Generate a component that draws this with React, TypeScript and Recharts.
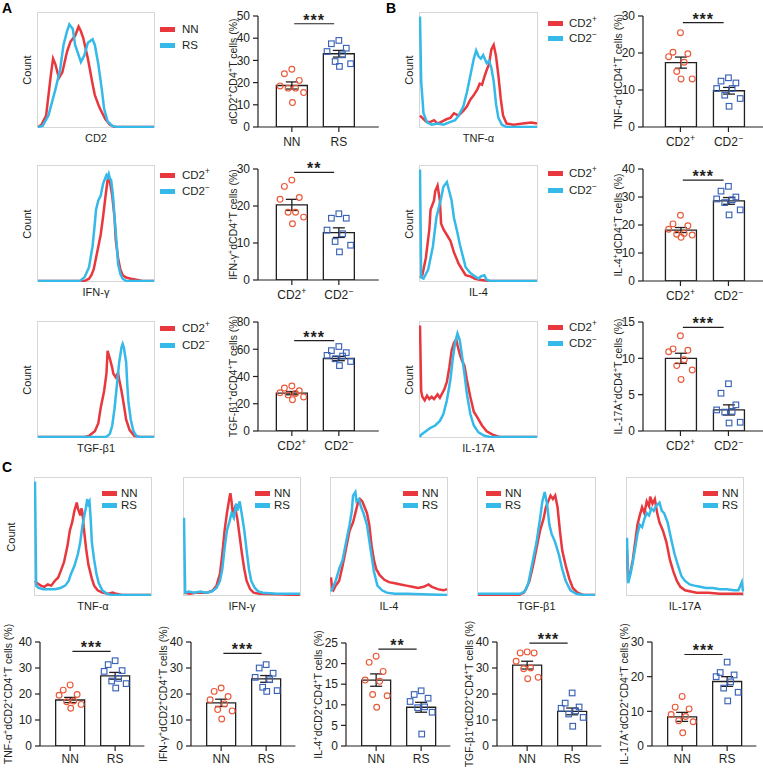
import React from "react";
import {
  Bar,
  ComposedChart,
  ErrorBar,
  Line,
  LineChart,
  ReferenceLine,
  Scatter,
  XAxis,
  YAxis,
} from "recharts";

const RED = "#e8383d";
const BLUE = "#35b9e9";
const DOT_RED = "#ea5a3a";
const DOT_BLUE = "#3a63b8";
const INK = "#231f20";
const FONT = '"Liberation Sans", Arial, sans-serif';

type Pt = [number, number];

// histogram traces: [channel bin 0-100, count % of max]
const cd2NN: Pt[] = [[0,0],[3,2],[7,10],[11,45],[13,60],[15,55],[18,43],[21,48],[25,66],[28,75],[32,80],[35,88],[37,84],[39,78],[43,60],[47,38],[49,28],[53,17],[58,7],[62,2],[66,0],[100,0]];
const cd2RS: Pt[] = [[0,0],[4,1],[9,10],[15,33],[19,50],[22,72],[25,84],[27,90],[30,86],[32,72],[35,63],[37,57],[40,63],[43,74],[47,77],[49,72],[52,55],[55,33],[57,16],[60,5],[64,1],[68,0],[100,0]];

const tnfPos: Pt[] = [[0,10],[2,8],[5,5],[8,4],[12,6],[15,3],[19,5],[23,7],[26,8],[29,12],[33,10],[37,14],[40,18],[43,24],[46,28],[49,33],[51,38],[53,37],[55,44],[57,50],[59,55],[61,68],[63,72],[65,62],[67,45],[69,25],[71,10],[74,3],[80,2],[88,3],[95,4],[100,3]];
const tnfNeg: Pt[] = [[0,97],[1,40],[3,12],[6,4],[10,2],[15,3],[20,2],[25,4],[30,6],[33,10],[37,18],[40,30],[43,45],[46,60],[48,67],[50,62],[52,60],[54,63],[57,56],[59,58],[61,52],[63,40],[65,20],[67,8],[70,2],[74,0],[100,0]];

const ifnPos: Pt[] = [[0,0],[40,0],[44,2],[46,5],[48,10],[50,20],[52,30],[54,40],[56,55],[58,72],[59,80],[60,88],[61,89],[62,86],[64,74],[66,55],[67,36],[69,20],[71,10],[73,5],[76,3],[80,2],[85,1],[90,0],[100,0]];
const ifnNeg: Pt[] = [[0,0],[36,0],[40,3],[44,12],[47,30],[49,50],[50,62],[52,70],[54,74],[56,84],[57,87],[59,92],[60,90],[61,93],[62,89],[63,88],[64,80],[65,70],[66,55],[68,30],[69,15],[71,6],[73,2],[76,0],[100,0]];

const il4Pos: Pt[] = [[0,3],[2,5],[5,20],[8,45],[9,62],[12,70],[13,78],[15,83],[17,70],[18,50],[20,45],[23,40],[26,35],[29,25],[33,15],[36,10],[39,5],[43,4],[47,2],[51,1],[59,0],[100,0]];
const il4Neg: Pt[] = [[0,97],[1,3],[3,2],[7,10],[11,30],[14,55],[18,72],[20,82],[23,86],[24,82],[27,70],[29,55],[32,42],[34,32],[37,20],[39,12],[43,7],[47,4],[50,2],[52,4],[55,5],[57,1],[60,0],[100,0]];

const tgfPos: Pt[] = [[0,0],[40,0],[44,1],[49,5],[52,12],[54,25],[57,40],[59,55],[60,75],[62,68],[64,60],[65,55],[67,52],[69,56],[70,50],[72,40],[74,28],[76,15],[79,6],[83,1],[88,0],[100,0]];
const tgfNeg: Pt[] = [[0,0],[58,0],[60,1],[62,3],[64,10],[66,25],[68,45],[70,65],[72,78],[73,81],[74,78],[76,65],[77,45],[78,30],[80,15],[82,6],[84,2],[86,0],[100,0]];

const il17Pos: Pt[] = [[0,97],[1,40],[2,35],[4,32],[6,36],[8,33],[10,35],[12,33],[15,37],[17,34],[19,38],[21,42],[23,48],[25,60],[27,75],[29,82],[31,85],[32,80],[34,72],[36,66],[38,62],[40,50],[43,35],[46,22],[49,17],[53,10],[57,5],[62,2],[68,0],[100,0]];
const il17Neg: Pt[] = [[0,0],[1,2],[5,5],[9,8],[13,10],[17,14],[20,20],[23,32],[26,50],[28,68],[30,82],[32,90],[34,84],[36,70],[38,55],[40,38],[43,20],[46,10],[50,4],[55,1],[60,0],[100,0]];

const cTnfNN: Pt[] = [[0,12],[2,10],[5,8],[8,7],[11,9],[14,8],[17,12],[20,15],[22,20],[25,28],[28,42],[30,55],[32,62],[34,72],[36,79],[37,74],[39,68],[40,74],[41,70],[42,58],[44,40],[46,26],[49,14],[51,8],[54,4],[58,2],[63,1],[67,2],[70,1],[75,0],[100,0]];
const cTnfRS: Pt[] = [[0,97],[1,8],[3,6],[7,5],[12,5],[17,5],[22,6],[26,8],[29,12],[31,18],[34,25],[37,35],[39,45],[41,60],[43,70],[44,75],[45,82],[46,78],[47,80],[48,65],[49,45],[51,30],[53,18],[55,10],[58,4],[62,1],[66,0],[100,0]];

const cIfnNN: Pt[] = [[0,2],[5,1],[10,2],[15,2],[20,2],[25,4],[28,8],[31,18],[33,35],[35,55],[37,70],[39,82],[40,87],[41,80],[42,70],[44,75],[46,65],[48,50],[50,35],[52,22],[54,12],[57,5],[60,2],[65,1],[100,0]];
const cIfnRS: Pt[] = [[0,66],[1,2],[4,3],[9,2],[14,3],[19,2],[24,3],[28,6],[31,12],[33,22],[35,40],[37,55],[39,62],[41,70],[43,66],[45,78],[46,72],[48,80],[50,68],[52,55],[54,38],[56,22],[58,12],[61,6],[64,3],[68,2],[80,1],[100,1]];

const cIl4NN: Pt[] = [[0,15],[1,5],[2,4],[4,8],[7,12],[10,25],[13,40],[16,55],[19,62],[21,70],[23,78],[25,82],[27,80],[29,75],[31,70],[33,60],[35,42],[37,30],[39,22],[42,17],[46,13],[50,11],[55,10],[60,9],[65,8],[70,7],[75,6],[80,7],[84,9],[87,7],[92,5],[97,4],[100,5]];
const cIl4RS: Pt[] = [[0,3],[1,5],[4,12],[7,22],[10,30],[13,45],[16,60],[18,72],[19,85],[21,88],[22,80],[24,82],[26,75],[28,70],[31,60],[34,40],[37,20],[40,8],[44,4],[48,2],[55,1],[65,1],[100,0]];

const cTgfNN: Pt[] = [[0,0],[35,0],[39,2],[41,5],[44,12],[47,25],[50,40],[53,55],[56,65],[58,75],[60,80],[62,85],[64,82],[66,85],[68,75],[70,55],[72,38],[75,25],[78,14],[81,6],[85,2],[90,0],[100,0]];
const cTgfRS: Pt[] = [[0,1],[30,1],[36,1],[40,3],[43,10],[46,25],[50,45],[53,65],[55,80],[57,88],[59,78],[61,60],[63,52],[66,45],[69,35],[72,22],[75,12],[79,4],[84,1],[90,0],[100,0]];

const cIl17NN: Pt[] = [[0,38],[1,12],[3,20],[5,30],[7,45],[9,60],[11,68],[13,75],[15,70],[17,80],[19,76],[20,84],[22,78],[24,82],[26,70],[28,62],[31,55],[34,45],[37,30],[40,20],[43,12],[46,7],[50,4],[55,3],[60,2],[70,2],[80,1],[90,1],[100,1]];
const cIl17RS: Pt[] = [[0,49],[1,10],[3,18],[5,28],[7,40],[9,52],[11,60],[13,58],[15,65],[17,70],[19,68],[21,74],[23,72],[25,76],[28,79],[30,72],[32,70],[35,62],[38,48],[41,35],[44,25],[47,16],[50,12],[54,9],[58,8],[63,7],[68,6],[74,6],[80,5],[86,5],[92,4],[96,4],[99,11],[100,3]];

// bar + dot panels: individual values, mean and SEM (%)
const nnRs = ["NN", "RS"];
const cd2Cats = ["CD2^+", "CD2^−"];

const a1NN = [26, 24, 21, 18.5, 17.5, 17.5, 15.5, 11];
const a1RS = [39, 37.5, 35.5, 34, 32.5, 29.5, 28.5, 27.3];
const a1Mean = [18.7, 33];
const a1Sem = [1.6, 1.5];

const b1Pos = [25.5, 20.2, 19.8, 19, 17.5, 15, 13, 13];
const b1Neg = [13.3, 12.4, 11.9, 10.4, 10.4, 8.6, 7.7, 5.6];
const b1Mean = [17.4, 9.8];
const b1Sem = [1.5, 0.9];

const a2Pos = [27, 25.3, 22.3, 21.8, 18.3, 18.3, 17, 15.2];
const a2Neg = [17.9, 16.7, 16.7, 13.5, 12.5, 10.4, 9.4, 7.6];
const a2Mean = [20.3, 12.8];
const a2Sem = [1.5, 1.3];

const b2Pos = [23.5, 20.4, 19.7, 18.5, 17, 16.7, 16.4, 15.6];
const b2Neg = [33.8, 32.1, 30, 29.3, 29, 28, 25.4, 23.6];
const b2Mean = [18.2, 28.6];
const b2Sem = [0.9, 1.2];

const a3Pos = [33, 31.5, 29.5, 28, 27.5, 26.5, 25, 23];
const a3Neg = [62, 59, 57.5, 55.5, 55, 53, 51, 48];
const a3Mean = [27.8, 53.2];
const a3Sem = [1.2, 1.6];

const b3Pos = [13.1, 11.3, 11.1, 10.9, 9.8, 9, 8.4, 7.1];
const b3Neg = [6.5, 5.2, 3.6, 2.9, 2.7, 2.6, 1.2, 1.1];
const b3Mean = [10, 2.9];
const b3Sem = [0.7, 0.7];

const c1NN = [23.5, 21.5, 19.8, 19.5, 17.3, 17, 16, 14.5];
const c1RS = [32.8, 31.3, 29, 28.7, 26, 25, 24, 22.3];
const c1Mean = [17.7, 27];
const c1Sem = [1, 1.3];

const c2NN = [22.3, 21, 19, 17.8, 16.2, 14, 13.5, 10.4];
const c2RS = [31.3, 30, 28, 26.4, 25.5, 22.6, 21.3, 21];
const c2Mean = [16.6, 25.8];
const c2Sem = [1.4, 1.3];

const c3NN = [21.8, 20.3, 18.1, 16, 15.7, 12.5, 12.2, 9.4];
const c3RS = [13.4, 12.5, 11.6, 10.8, 9.5, 9.3, 8.2, 2.9];
const c3Mean = [16, 9.4];
const c3Sem = [1.5, 1.2];

const c4NN = [36.2, 35.8, 35.8, 32.6, 30, 29.7, 26.4, 25.9];
const c4RS = [20.4, 16.5, 15, 14.5, 13.5, 12.3, 11, 7.6];
const c4Mean = [31.1, 13.3];
const c4Sem = [1.5, 1.3];

const c5NN = [14.3, 11.2, 10.7, 9.1, 8.5, 7.3, 7, 3.8];
const c5RS = [24.2, 21.2, 20.5, 20, 18.5, 16.7, 15.5, 13];
const c5Mean = [8.4, 18.6];
const c5Sem = [1.3, 1.4];

// horizontal spread of the dots inside a bar
const JITTER = [0, -0.6, 0.6, -0.95, 0.3, -0.3, 0.95, 0.05];

// text with ^x superscripts, for svg
function SvgRich({ text, size }: { text: string; size: number }) {
  const bits = text.split(/\^(.)/);
  const shift = size * 0.4;
  const nodes: React.ReactNode[] = [];
  let up = false;
  bits.forEach((b, i) => {
    if (b === "") return;
    const sup = i % 2 === 1;
    let dy = 0;
    if (sup && !up) {
      dy = -shift;
      up = true;
    } else if (!sup && up) {
      dy = shift;
      up = false;
    }
    nodes.push(
      <tspan key={i} dy={dy || undefined} fontSize={sup ? size * 0.72 : size}>
        {b}
      </tspan>
    );
  });
  return <>{nodes}</>;
}

// same for html
function HtmlRich({ text, size }: { text: string; size: number }) {
  const bits = text.split(/\^(.)/);
  return (
    <>
      {bits.map((b, i) =>
        i % 2 === 1 ? (
          <span key={i} style={{ fontSize: size * 0.72, position: "relative", top: -size * 0.42 }}>
            {b}
          </span>
        ) : (
          <span key={i}>{b}</span>
        )
      )}
    </>
  );
}

const toRows = (pts: Pt[]) => pts.map(([bin, count]) => ({ bin, count }));

function Histogram({
  x, y, w, h, first, second, axisLabel, countDx, legend, legendX, legendY, legendGap,
}: {
  x: number; y: number; w: number; h: number; first: Pt[]; second: Pt[];
  axisLabel: string; countDx?: number; legend: string[]; legendX: number;
  legendY: number[]; legendGap: number;
}) {
  return (
    <>
      <div
        style={{
          position: "absolute", left: x, top: y, width: w, height: h,
          border: "1px solid #d6d6d6", boxSizing: "border-box",
        }}
      />
      <div style={{ position: "absolute", left: x, top: y }}>
        <LineChart width={w} height={h} margin={{ top: 1, right: 1, bottom: 1, left: 1 }}>
          <XAxis type="number" dataKey="bin" domain={[0, 100]} hide />
          <YAxis type="number" domain={[0, 100]} hide />
          <Line data={toRows(first)} dataKey="count" type="linear" stroke={RED} strokeWidth={2.5} dot={false} isAnimationActive={false} />
          <Line data={toRows(second)} dataKey="count" type="linear" stroke={BLUE} strokeWidth={2.5} dot={false} isAnimationActive={false} />
        </LineChart>
      </div>
      <div
        style={{
          position: "absolute", left: x, top: y + h + 4, width: w,
          textAlign: "center", fontSize: 11, lineHeight: "13px", color: INK,
        }}
      >
        {axisLabel}
      </div>
      {countDx !== undefined && (
        <div
          style={{
            position: "absolute", left: x + countDx, top: y + h / 2,
            transform: "translate(-50%, -50%) rotate(-90deg)",
            fontSize: 11, color: INK, whiteSpace: "nowrap",
          }}
        >
          Count
        </div>
      )}
      {legend.map((name, i) => (
        <React.Fragment key={name}>
          <div
            style={{
              position: "absolute", left: legendX, top: legendY[i] - 2.5,
              width: 15, height: 5, background: i === 0 ? RED : BLUE,
            }}
          />
          <div
            style={{
              position: "absolute", left: legendX + legendGap, top: legendY[i] - 7,
              fontSize: 11.5, lineHeight: "14px", color: INK, whiteSpace: "nowrap",
            }}
          >
            <HtmlRich text={name} size={11.5} />
          </div>
        </React.Fragment>
      ))}
    </>
  );
}

type BarPanelProps = {
  axisX: number; topY: number; plotH: number; max: number; ticks: number[];
  unit: number; domain: [number, number]; cats: string[]; means: number[];
  sems: number[]; groupA: number[]; groupB: number[]; stars: string;
  sigFrac: number; yText: string; labelDx: number; barSize: number; tickDy: number;
};

function DotBarPanel(p: BarPanelProps) {
  const ml = 50;
  const mt = 34;
  const xh = 30;
  const mr = 4;
  const [d0, d1] = p.domain;
  const plotW = p.unit * (d1 - d0);
  // category bands one unit wide, centred on 1 and 2 of the numeric scale
  const padL = (0.5 - d0) * p.unit;
  const padR = (d1 - 2.5) * p.unit;
  const rows = p.means.map((mean, i) => ({ name: p.cats[i], mean, sem: p.sems[i] }));
  const spread = (p.barSize * 0.4) / p.unit;
  const ptsA = p.groupA.map((v, i) => ({ x: 1 + JITTER[i % JITTER.length] * spread, y: v }));
  const ptsB = p.groupB.map((v, i) => ({ x: 2 + JITTER[i % JITTER.length] * spread, y: v }));
  const sigY = p.max * p.sigFrac;
  const lx = ml + p.labelDx;
  const ly = mt + p.plotH / 2;

  const catTick = (t: any) => (
    <text x={t.x} y={t.y + p.tickDy} textAnchor="middle" fontSize={12} fill={INK}>
      <SvgRich text={String(t.payload.value)} size={12} />
    </text>
  );

  return (
    <div style={{ position: "absolute", left: p.axisX - ml, top: p.topY - mt }}>
      <ComposedChart
        width={ml + plotW + mr}
        height={mt + p.plotH + xh}
        data={rows}
        margin={{ top: mt, right: mr, bottom: 0, left: ml - 40 }}
      >
        <XAxis
          xAxisId="cat"
          type="category"
          dataKey="name"
          padding={{ left: padL, right: padR }}
          height={xh}
          tickSize={5}
          tickMargin={2}
          interval={0}
          axisLine={{ stroke: INK, strokeWidth: 1.2 }}
          tickLine={{ stroke: INK, strokeWidth: 1.2 }}
          tick={catTick}
        />
        <XAxis xAxisId="num" type="number" dataKey="x" domain={p.domain} allowDataOverflow hide />
        <YAxis
          type="number"
          domain={[0, p.max]}
          ticks={p.ticks}
          allowDataOverflow
          width={40}
          tickSize={5}
          tickMargin={3}
          axisLine={{ stroke: INK, strokeWidth: 1.2 }}
          tickLine={{ stroke: INK, strokeWidth: 1.2 }}
          tick={{ fontSize: 12, fill: INK }}
          label={{
            content: () => (
              <text
                x={lx}
                y={ly}
                transform={`rotate(-90 ${lx} ${ly})`}
                textAnchor="middle"
                fontSize={10.5}
                fill={INK}
              >
                <SvgRich text={p.yText} size={10.5} />
              </text>
            ),
          }}
        />
        <Bar xAxisId="cat" dataKey="mean" barSize={p.barSize} fill="#fff" stroke={INK} strokeWidth={1.3} isAnimationActive={false}>
          <ErrorBar dataKey="sem" direction="y" width={6} stroke={INK} strokeWidth={1.3} />
        </Bar>
        <Scatter
          xAxisId="num"
          data={ptsA}
          dataKey="y"
          isAnimationActive={false}
          shape={(s: any) => <circle cx={s.cx} cy={s.cy} r={2.9} fill="none" stroke={DOT_RED} strokeWidth={1.15} />}
        />
        <Scatter
          xAxisId="num"
          data={ptsB}
          dataKey="y"
          isAnimationActive={false}
          shape={(s: any) => <rect x={s.cx - 2.8} y={s.cy - 2.8} width={5.6} height={5.6} fill="none" stroke={DOT_BLUE} strokeWidth={1.15} />}
        />
        <ReferenceLine
          xAxisId="num"
          segment={[{ x: 1.05, y: sigY }, { x: 1.9, y: sigY }]}
          stroke={INK}
          strokeWidth={1.2}
          label={{ value: p.stars, position: "top", offset: -2, fontSize: 16, fontWeight: 700, letterSpacing: 1, fill: INK }}
        />
      </ComposedChart>
    </div>
  );
}

const AB_A = { unit: 47, domain: [0.28, 2.85] as [number, number], barSize: 31, labelDx: -21, tickDy: 12 };
const AB_B = { unit: 48, domain: [0.22, 2.72] as [number, number], barSize: 31, labelDx: -21, tickDy: 12 };
const ROW_C = { unit: 45, domain: [0.33, 2.65] as [number, number], barSize: 29, labelDx: -24, tickDy: 10 };

function PanelLetter({ x, y, text }: { x: number; y: number; text: string }) {
  return (
    <div style={{ position: "absolute", left: x, top: y, fontSize: 14, fontWeight: 700, color: "#000" }}>
      {text}
    </div>
  );
}

export default function App() {
  const cLegY = [493, 505];
  return (
    <div
      style={{
        position: "absolute", left: 0, top: 0, width: 763, height: 769,
        overflow: "hidden", background: "#fff", fontFamily: FONT,
      }}
    >
      <PanelLetter x={2} y={0} text="A" />
      <PanelLetter x={386} y={0} text="B" />
      <PanelLetter x={2} y={459} text="C" />

      <Histogram x={37} y={12} w={118} h={116} first={cd2NN} second={cd2RS} axisLabel="CD2" countDx={-10}
        legend={nnRs} legendX={160} legendY={[29, 45]} legendGap={22} />
      <Histogram x={419} y={12} w={119} h={116} first={tnfPos} second={tnfNeg} axisLabel="TNF-α" countDx={-10}
        legend={cd2Cats} legendX={548} legendY={[23, 38]} legendGap={21} />
      <Histogram x={37} y={165} w={118} h={117} first={ifnPos} second={ifnNeg} axisLabel="IFN-γ" countDx={-10}
        legend={cd2Cats} legendX={160} legendY={[175, 191]} legendGap={22} />
      <Histogram x={419} y={165} w={119} h={117} first={il4Pos} second={il4Neg} axisLabel="IL-4" countDx={-10}
        legend={cd2Cats} legendX={548} legendY={[173, 190]} legendGap={21} />
      <Histogram x={37} y={321} w={118} h={117} first={tgfPos} second={tgfNeg} axisLabel="TGF-β1" countDx={-10}
        legend={cd2Cats} legendX={160} legendY={[328, 345]} legendGap={22} />
      <Histogram x={419} y={321} w={119} h={117} first={il17Pos} second={il17Neg} axisLabel="IL-17A" countDx={-10}
        legend={cd2Cats} legendX={548} legendY={[327, 343]} legendGap={21} />

      <DotBarPanel {...AB_A} axisX={258} topY={16} plotH={111} max={50} ticks={[0, 10, 20, 30, 40, 50]}
        cats={nnRs} means={a1Mean} sems={a1Sem} groupA={a1NN} groupB={a1RS} stars="***" sigFrac={0.93}
        yText="dCD2^+CD4^+T cells (%)" />
      <DotBarPanel {...AB_B} axisX={643} topY={16} plotH={111} max={30} ticks={[0, 10, 20, 30]}
        cats={cd2Cats} means={b1Mean} sems={b1Sem} groupA={b1Pos} groupB={b1Neg} stars="***" sigFrac={0.94}
        yText="TNF-α^+dCD4^+T cells (%)" />
      <DotBarPanel {...AB_A} axisX={258} topY={169} plotH={111} max={30} ticks={[0, 10, 20, 30]}
        cats={cd2Cats} means={a2Mean} sems={a2Sem} groupA={a2Pos} groupB={a2Neg} stars="**" sigFrac={0.97}
        yText="IFN-γ^+dCD4^+T cells (%)" />
      <DotBarPanel {...AB_B} axisX={643} topY={169} plotH={112} max={40} ticks={[0, 10, 20, 30, 40]}
        cats={cd2Cats} means={b2Mean} sems={b2Sem} groupA={b2Pos} groupB={b2Neg} stars="***" sigFrac={0.9}
        yText="IL-4^+dCD4^+T cells (%)" />
      <DotBarPanel {...AB_A} axisX={258} topY={322} plotH={109} max={80} ticks={[0, 20, 40, 60, 80]}
        cats={cd2Cats} means={a3Mean} sems={a3Sem} groupA={a3Pos} groupB={a3Neg} stars="***" sigFrac={0.83}
        yText="TGF-β1^+dCD4^+T cells (%)" />
      <DotBarPanel {...AB_B} axisX={643} topY={322} plotH={109} max={15} ticks={[0, 5, 10, 15]}
        cats={cd2Cats} means={b3Mean} sems={b3Sem} groupA={b3Pos} groupB={b3Neg} stars="***" sigFrac={0.95}
        yText="IL-17A^+dCD4^+T cells (%)" />

      <Histogram x={34} y={477} w={118} h={119} first={cTnfNN} second={cTnfRS} axisLabel="TNF-α" countDx={-23}
        legend={nnRs} legendX={102} legendY={cLegY} legendGap={19} />
      <Histogram x={183} y={477} w={118} h={119} first={cIfnNN} second={cIfnRS} axisLabel="IFN-γ"
        legend={nnRs} legendX={255} legendY={cLegY} legendGap={19} />
      <Histogram x={330} y={477} w={118} h={119} first={cIl4NN} second={cIl4RS} axisLabel="IL-4"
        legend={nnRs} legendX={403} legendY={cLegY} legendGap={19} />
      <Histogram x={477} y={477} w={119} h={119} first={cTgfNN} second={cTgfRS} axisLabel="TGF-β1"
        legend={nnRs} legendX={486} legendY={cLegY} legendGap={19} />
      <Histogram x={626} y={477} w={118} h={119} first={cIl17NN} second={cIl17RS} axisLabel="IL-17A"
        legend={nnRs} legendX={703} legendY={cLegY} legendGap={19} />

      <DotBarPanel {...ROW_C} labelDx={-28} axisX={40} topY={642} plotH={104} max={40} ticks={[0, 10, 20, 30, 40]}
        cats={nnRs} means={c1Mean} sems={c1Sem} groupA={c1NN} groupB={c1RS} stars="***" sigFrac={0.91}
        yText="TNF-α^+dCD2^+CD4^+T cells (%)" />
      <DotBarPanel {...ROW_C} axisX={191} topY={642} plotH={104} max={40} ticks={[0, 10, 20, 30, 40]}
        cats={nnRs} means={c2Mean} sems={c2Sem} groupA={c2NN} groupB={c2RS} stars="***" sigFrac={0.89}
        yText="IFN-γ^+dCD2^+CD4^+T cells (%)" />
      <DotBarPanel {...ROW_C} axisX={346} topY={643} plotH={103} max={25} ticks={[0, 5, 10, 15, 20, 25]}
        cats={nnRs} means={c3Mean} sems={c3Sem} groupA={c3NN} groupB={c3RS} stars="**" sigFrac={0.94}
        yText="IL-4^+dCD2^+CD4^+T cells (%)" />
      <DotBarPanel {...ROW_C} axisX={497} topY={642} plotH={104} max={40} ticks={[0, 10, 20, 30, 40]}
        cats={nnRs} means={c4Mean} sems={c4Sem} groupA={c4NN} groupB={c4RS} stars="***" sigFrac={0.99}
        yText="TGF-β1^+dCD2^+CD4^+T cells (%)" />
      <DotBarPanel {...ROW_C} axisX={652} topY={642} plotH={104} max={30} ticks={[0, 10, 20, 30]}
        cats={nnRs} means={c5Mean} sems={c5Sem} groupA={c5NN} groupB={c5RS} stars="***" sigFrac={0.88}
        yText="IL-17A^+dCD2^+CD4^+T cells (%)" />
    </div>
  );
}
